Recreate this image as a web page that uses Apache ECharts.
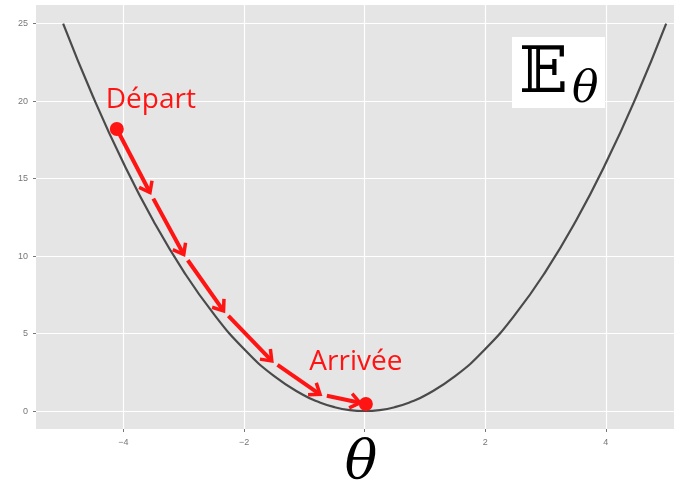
<!DOCTYPE html>
<html>
<head>
<meta charset="utf-8">
<script src="https://cdn.jsdelivr.net/npm/echarts@6/dist/echarts.min.js"></script>
<style>
  html, body { margin: 0; padding: 0; background: #fff; }
  #chart { width: 675px; height: 485px; }
</style>
</head>
<body>
<div id="chart"></div>
<script>
// parabola
const curveX = [-5, -4.5, -4, -3.5, -3, -2.5, -2, -1.5, -1, -0.75, -0.5, -0.25, 0, 0.25, 0.5, 0.75, 1, 1.5, 2, 2.5, 3, 3.5, 4, 4.5, 5]
const curveY = [25, 20.25, 16, 12.25, 9, 6.25, 4, 2.25, 1, 0.5625, 0.25, 0.0625, 0, 0.0625, 0.25, 0.5625, 1, 2.25, 4, 6.25, 9, 12.25, 16, 20.25, 25]

// descent path (start, arrow tips, end)
const pathX = [-4.11, -3.56, -3.0, -2.34, -1.54, -0.74, 0.02]
const pathY = [18.2, 14.1, 10.1, 6.46, 3.23, 1.08, 0.45]

const xTicks = [-4, -2, 0, 2, 4]
const xLabels = [-4, -2, 2, 4]
const yTicks = [0, 5, 10, 15, 20, 25]

const RED = '#ff1414'

const chart = echarts.init(document.getElementById('chart'))

const curveData = curveX.map((x, i) => [x, curveY[i]])
const segData = []
for (let i = 0; i < pathX.length - 1; i++) {
  segData.push([pathX[i], pathY[i], pathX[i + 1], pathY[i + 1]])
}

function renderArrow(params, api) {
  const a = api.coord([api.value(0), api.value(1)])
  const b = api.coord([api.value(2), api.value(3)])
  const dx = b[0] - a[0]
  const dy = b[1] - a[1]
  const len = Math.hypot(dx, dy)
  const ux = dx / len
  const uy = dy / len
  const gap = params.dataIndex === 0 ? 0 : 7
  const last = params.dataIndex === segData.length - 1
  // last arrow stops just before the end dot
  const tip = last ? [b[0] - ux * 6, b[1] - uy * 6] : b
  const head = 12
  const ang = 0.65
  const c = Math.cos(ang)
  const s = Math.sin(ang)
  const bx = -ux
  const by = -uy
  const p1 = [tip[0] + head * (bx * c - by * s), tip[1] + head * (bx * s + by * c)]
  const p2 = [tip[0] + head * (bx * c + by * s), tip[1] + head * (-bx * s + by * c)]
  return {
    type: 'group',
    children: [
      {
        type: 'line',
        shape: { x1: a[0] + ux * gap, y1: a[1] + uy * gap, x2: b[0], y2: b[1] },
        style: { stroke: RED, lineWidth: 4 }
      },
      {
        type: 'polyline',
        shape: { points: [p1, tip, p2] },
        style: { stroke: RED, lineWidth: 3.5, fill: null }
      }
    ]
  }
}

const option = {
  backgroundColor: '#fff',
  animation: false,
  grid: {
    left: 36, right: 1, top: 5, bottom: 56,
    outerBoundsMode: 'none',
    containLabel: false,
    show: true, backgroundColor: '#e5e5e5', borderWidth: 0
  },
  xAxis: {
    type: 'value',
    min: -5.45,
    max: 5.13,
    name: 'θ',
    nameLocation: 'middle',
    nameGap: 8,
    nameMoveOverlap: false,
    nameTextStyle: {
      fontFamily: 'DejaVu Serif',
      fontStyle: 'italic',
      fontSize: 54,
      color: '#000',
      padding: [0, 0, 0, 12]
    },
    axisLine: { show: false, onZero: false },
    axisTick: { show: true, length: 3, lineStyle: { color: '#777' }, customValues: xTicks },
    axisLabel: { customValues: xLabels, color: '#777', fontSize: 9, margin: 9, formatter: v => String(v).replace('-', '\u2212') },
    splitLine: { show: true, lineStyle: { color: '#fff', width: 1.2 } }
  },
  yAxis: {
    type: 'value',
    min: -1.16,
    max: 26.2,
    axisLine: { show: false, onZero: false },
    axisTick: { show: true, length: 3, lineStyle: { color: '#777' }, customValues: yTicks },
    axisLabel: { customValues: yTicks, color: '#777', fontSize: 9, margin: 8 },
    splitLine: { show: true, lineStyle: { color: '#fff', width: 1.2 } }
  },
  series: [
    {
      type: 'line',
      data: curveData,
      smooth: true,
      showSymbol: false,
      lineStyle: { color: '#4a4a4a', width: 2.2 },
      z: 2
    },
    {
      type: 'custom',
      renderItem: renderArrow,
      data: segData,
      z: 3
    },
    {
      type: 'scatter',
      symbolSize: 14,
      itemStyle: { color: RED, opacity: 1 },
      z: 4,
      data: [
        {
          value: [pathX[0], pathY[0]],
          label: { show: true, formatter: 'Départ', position: 'top', offset: [34, -3] }
        },
        {
          value: [pathX[pathX.length - 1], pathY[pathY.length - 1]],
          label: { show: true, formatter: 'Arrivée', position: 'top', offset: [-10, -16] }
        }
      ],
      label: { color: RED, fontSize: 28, fontFamily: 'Open Sans', opacity: 1 }
    }
  ],
  graphic: [
    {
      type: 'rect',
      shape: { x: 512, y: 37, width: 93, height: 71 },
      style: { fill: '#fff' },
      z: 10
    },
    {
      type: 'text',
      x: 519, y: 43,
      style: { text: '𝔼', fontFamily: 'DejaVu Serif, DejaVu Sans', fontSize: 64, fill: '#000' },
      z: 11
    },
    {
      type: 'text',
      x: 572, y: 69,
      style: { text: 'θ', fontFamily: 'DejaVu Serif', fontStyle: 'italic', fontSize: 44, fill: '#000' },
      z: 11
    }
  ]
}

chart.setOption(option)
</script>
</body>
</html>
